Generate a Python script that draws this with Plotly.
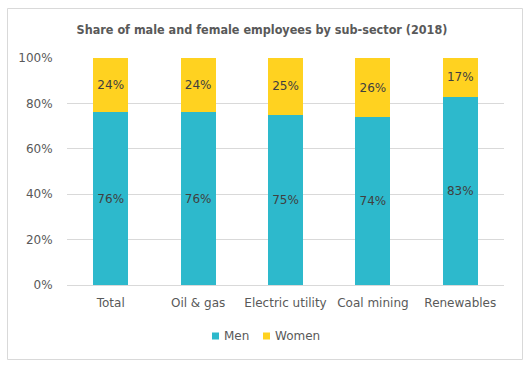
import plotly.graph_objects as go

categories = ["Total", "Oil & gas", "Electric utility", "Coal mining", "Renewables"]
men = [76, 76, 75, 74, 83]
women = [24, 24, 25, 26, 17]
series_names = ["Men", "Women"]
series_colors = ["#2DB9CC", "#FFD220"]

FONT = "DejaVu Sans"
TXT = "#595959"

fig = go.Figure()
for name, vals, col in zip(series_names, [men, women], series_colors):
    fig.add_trace(go.Bar(
        x=categories, y=[v / 100 for v in vals], name=name,
        marker=dict(color=col, line=dict(width=0)),
        text=[f"{v}%" for v in vals], textposition="inside", insidetextanchor="middle",
        textfont=dict(color="#404040", size=12, family=FONT), hoverinfo="skip",
        showlegend=False,
    ))

L, R, T, B = 67, 504, 58, 285
W, H = 531, 368
pw, ph = R - L, B - T

def px(x):
    return (x - L) / pw

def py(y):
    return (B - y) / ph

shapes = [dict(type="rect", xref="paper", yref="paper",
               x0=px(7.5), x1=px(522.5), y0=py(359.5), y1=py(8.5),
               line=dict(color="#D9D9D9", width=1), fillcolor="rgba(0,0,0,0)", layer="below")]
annotations = []
# legend (manual): marker squares + labels
leg_x = [212, 263]
for lx, name, col in zip(leg_x, series_names, series_colors):
    shapes.append(dict(type="rect", xref="paper", yref="paper",
                       x0=px(lx), x1=px(lx + 7), y0=py(339.5), y1=py(332.5),
                       line=dict(width=0), fillcolor=col))
    annotations.append(dict(text=name, xref="paper", yref="paper", x=px(lx + 10), y=py(336),
                            xanchor="left", yanchor="middle", showarrow=False,
                            font=dict(size=12, color=TXT, family=FONT)))

fig.update_layout(
    width=W, height=H,
    margin=dict(l=L, r=W - R, t=T, b=H - B, autoexpand=False),
    barmode="stack", bargap=0.6,
    plot_bgcolor="white", paper_bgcolor="white",
    font=dict(family=FONT, color=TXT, size=12),
    title=dict(text="<b>Share of male and female employees by sub-sector (2018)</b>",
               x=262 / W, xref="container", xanchor="center", y=1 - 30 / H, yref="container",
               yanchor="middle",
               font=dict(size=12.5, color=TXT, family="DejaVu Sans Condensed")),
    xaxis=dict(showgrid=False, showline=True, linecolor="#D9D9D9",
               ticks="outside", ticklen=7, tickcolor="rgba(0,0,0,0)",
               tickfont=dict(size=12, color=TXT), fixedrange=True, automargin=False),
    yaxis=dict(range=[0, 1], tickvals=[0, 0.2, 0.4, 0.6, 0.8, 1.0], tickformat=".0%",
               showgrid=True, gridcolor="#D9D9D9", gridwidth=1, zeroline=False,
               ticks="outside", ticklen=11, tickcolor="rgba(0,0,0,0)",
               tickfont=dict(size=12, color=TXT), showline=False, fixedrange=True,
               automargin=False),
    showlegend=False,
    shapes=shapes,
    annotations=annotations,
)

fig.write_html("out.html", config={"displayModeBar": False},
               post_script="document.body.style.margin='0';document.body.style.overflow='hidden';")
